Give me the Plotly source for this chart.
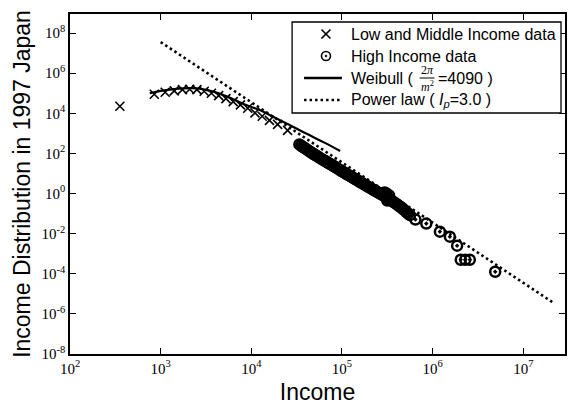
import plotly.graph_objects as go

# ---- data (log10 values) ----
low_logx = [2.55, 2.93, 3.05, 3.15, 3.24, 3.32, 3.40, 3.48, 3.56, 3.64, 3.72, 3.80,
            3.88, 3.96, 4.04, 4.12, 4.20, 4.29, 4.40]
low_logy = [4.35, 4.95, 5.05, 5.12, 5.18, 5.20, 5.18, 5.10, 5.00, 4.88, 4.73, 4.58,
            4.42, 4.25, 4.02, 3.85, 3.65, 3.45, 3.15]

high_logx = [4.53, 4.55, 4.57, 4.59, 4.61, 4.63, 4.65, 4.67, 4.69, 4.71, 4.73, 4.75,
             4.77, 4.79, 4.81, 4.83, 4.85, 4.87, 4.89, 4.91, 4.93, 4.95, 4.97, 4.99,
             5.01, 5.03, 5.05, 5.07, 5.09, 5.11, 5.13, 5.15, 5.17, 5.19, 5.21, 5.23,
             5.25, 5.27, 5.29, 5.31, 5.33, 5.35, 5.37, 5.39, 5.41, 5.43, 5.45, 5.47,
             5.49, 5.51, 5.53, 5.55, 5.57, 5.59, 5.61, 5.63, 5.65, 5.67, 5.69, 5.71,
             5.73, 5.75, 5.47, 5.49, 5.50, 5.52,
             5.81, 5.93, 6.08, 6.19, 6.27, 6.31, 6.36, 6.41, 6.69]
high_logy = [2.45, 2.38, 2.32, 2.26, 2.20, 2.14, 2.08, 2.02, 1.96, 1.91, 1.85, 1.79,
             1.74, 1.68, 1.63, 1.58, 1.52, 1.47, 1.42, 1.36, 1.31, 1.25, 1.19, 1.13,
             1.08, 1.03, 0.97, 0.92, 0.87, 0.82, 0.76, 0.71, 0.66, 0.60, 0.55, 0.49,
             0.44, 0.39, 0.33, 0.28, 0.23, 0.17, 0.12, 0.07, 0.02, -0.03, -0.08, -0.13,
             -0.19, -0.25, -0.31, -0.37, -0.43, -0.49, -0.55, -0.62, -0.69, -0.76, -0.84, -0.92,
             -1.00, -1.08, 0.05, 0.00, -0.35, -0.10,
             -1.30, -1.50, -1.90, -2.15, -2.60, -3.30, -3.30, -3.30, -3.90]

weibull_logx = [2.88, 3.00, 3.20, 3.35, 3.50, 3.65, 3.80, 3.95, 4.10, 4.25, 4.40, 4.60, 4.80, 4.98]
weibull_logy = [5.00, 5.12, 5.23, 5.25, 5.17, 4.98, 4.70, 4.40, 4.15, 3.80, 3.47, 3.00, 2.55, 2.12]

power_logx = [3.00, 7.33]
power_logy = [7.55, -5.44]

xtick_exp = [2, 3, 4, 5, 6, 7]
ytick_exp = [-8, -6, -4, -2, 0, 2, 4, 6, 8]

legend_labels = ["Low and Middle Income data", "High Income data", "Weibull (", "=4090 )",
                 "Power law ( <i>I<sub>p</sub></i>=3.0 )"]


def p10(v):
    return [10 ** a for a in v]


fig = go.Figure()
fig.add_trace(go.Scatter(
    x=p10(low_logx), y=p10(low_logy), mode="markers",
    name="Low and Middle Income data",
    marker=dict(symbol="x-thin-open", size=9, color="black", line=dict(width=1.6, color="black"))))
fig.add_trace(go.Scatter(
    x=p10(high_logx), y=p10(high_logy), mode="markers",
    name="High Income data",
    marker=dict(symbol="circle-open-dot", size=10, color="black", line=dict(width=2.5, color="black"))))
fig.add_trace(go.Scatter(
    x=p10(weibull_logx), y=p10(weibull_logy), mode="lines",
    name="Weibull",
    line=dict(color="black", width=2.2, shape="spline")))
fig.add_trace(go.Scatter(
    x=p10(power_logx), y=p10(power_logy), mode="lines",
    name="Power law",
    line=dict(color="black", width=2.6, dash="2.5px,3px")))

tick_font = dict(family="Liberation Serif", size=15, color="black")
fig.update_xaxes(
    type="log", range=[2, 7.46],
    tickvals=p10(xtick_exp), ticktext=[f"10<sup>{e}</sup>" for e in xtick_exp],
    ticks="inside", ticklen=6, tickwidth=1.2, tickcolor="black",
    showline=True, linecolor="black", linewidth=1.5, mirror="ticks",
    showgrid=False, zeroline=False, tickfont=tick_font,
    title=dict(text="Income", font=dict(family="Liberation Sans", size=23, color="black"), standoff=8))
fig.update_yaxes(
    type="log", range=[-8, 8.95],
    tickvals=p10(ytick_exp), ticktext=[f"10<sup>{e}</sup>" for e in ytick_exp],
    ticks="inside", ticklen=6, tickwidth=1.2, tickcolor="black",
    showline=True, linecolor="black", linewidth=1.5, mirror="ticks",
    showgrid=False, zeroline=False, tickfont=tick_font,
    title=dict(text="Income Distribution in 1997 Japan",
               font=dict(family="Liberation Sans", size=23, color="black"), standoff=4))

# ---- hand-made legend (pixel positions converted to paper coordinates) ----
L, R, T, B = 70, 567, 14, 354


def px(v):
    return (v - L) / (R - L)


def py(v):
    return (B - v) / (B - T)


shapes = [dict(type="rect", xref="paper", yref="paper", x0=px(293), x1=px(563), y0=py(113), y1=py(22),
               line=dict(color="black", width=1.3), fillcolor="white", layer="above")]
rows = [34, 56, 78, 100]
gx = 327
# x glyph
shapes += [dict(type="line", xref="paper", yref="paper", xsizemode="pixel", ysizemode="pixel",
                xanchor=px(gx), yanchor=py(rows[0]), x0=-4.5, x1=4.5, y0=-4.5, y1=4.5,
                line=dict(color="black", width=1.6), layer="above"),
           dict(type="line", xref="paper", yref="paper", xsizemode="pixel", ysizemode="pixel",
                xanchor=px(gx), yanchor=py(rows[0]), x0=-4.5, x1=4.5, y0=4.5, y1=-4.5,
                line=dict(color="black", width=1.6), layer="above")]
# circle glyph
shapes += [dict(type="circle", xref="paper", yref="paper", xsizemode="pixel", ysizemode="pixel",
                xanchor=px(gx), yanchor=py(rows[1]), x0=-4.5, x1=4.5, y0=-4.5, y1=4.5,
                line=dict(color="black", width=1.6), layer="above"),
           dict(type="circle", xref="paper", yref="paper", xsizemode="pixel", ysizemode="pixel",
                xanchor=px(gx), yanchor=py(rows[1]), x0=-1, x1=1, y0=-1, y1=1,
                fillcolor="black", line=dict(color="black", width=0.5), layer="above")]
# line glyphs
shapes += [dict(type="line", xref="paper", yref="paper", x0=px(305), x1=px(343), y0=py(rows[2]), y1=py(rows[2]),
                line=dict(color="black", width=2.4), layer="above"),
           dict(type="line", xref="paper", yref="paper", x0=px(305), x1=px(343), y0=py(rows[3]), y1=py(rows[3]),
                line=dict(color="black", width=2.6, dash="2.5px,3px"), layer="above")]
# fraction bar
shapes += [dict(type="line", xref="paper", yref="paper", x0=px(421), x1=px(436), y0=py(rows[2]), y1=py(rows[2]),
                line=dict(color="black", width=1), layer="above")]

lf = dict(family="Liberation Sans", size=16, color="black")
sf = dict(family="Liberation Serif", size=12, color="black")
anns = [
    dict(x=px(350), y=py(rows[0]), text=legend_labels[0], font=lf),
    dict(x=px(350), y=py(rows[1]), text=legend_labels[1], font=lf),
    dict(x=px(350), y=py(rows[2]), text=legend_labels[2], font=lf),
    dict(x=px(428.5), y=py(rows[2] - 7.5), text="2<i>π</i>", font=sf, xanchor="center"),
    dict(x=px(428.5), y=py(rows[2] + 8.5), text="<i>m</i><sup>2</sup>", font=sf, xanchor="center"),
    dict(x=px(437), y=py(rows[2]), text=legend_labels[3], font=lf),
    dict(x=px(350), y=py(rows[3]), text=legend_labels[4], font=lf),
]
for a in anns:
    a.update(xref="paper", yref="paper", showarrow=False, yanchor="middle")
    a.setdefault("xanchor", "left")

fig.update_layout(
    width=569, height=405,
    margin=dict(l=70, r=2, t=14, b=51),
    paper_bgcolor="white", plot_bgcolor="white",
    showlegend=False, shapes=shapes, annotations=anns,
)

fig.write_html("out.html")
